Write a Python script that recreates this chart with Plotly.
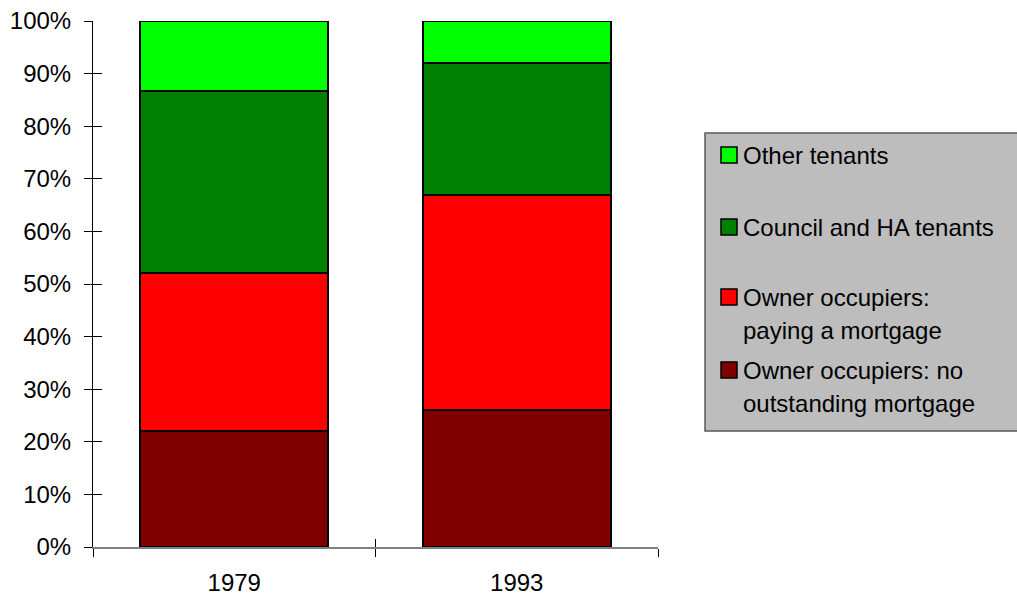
import plotly.graph_objects as go

# Housing tenure shares (% of households)
years = ["1979", "1993"]
no_mortgage = [22.0, 26.0]
paying_mortgage = [30.0, 41.0]
council_ha = [34.7, 25.0]
other_tenants = [13.3, 8.0]

series_names = [
    "Owner occupiers: no outstanding mortgage",
    "Owner occupiers: paying a mortgage",
    "Council and HA tenants",
    "Other tenants",
]
series_values = [no_mortgage, paying_mortgage, council_ha, other_tenants]
series_colors = ["#800000", "#FF0000", "#008000", "#00FF00"]

# legend text lines, listed top to bottom
legend_lines = [
    ["Other tenants"],
    ["Council and HA tenants"],
    ["Owner occupiers:", "paying a mortgage"],
    ["Owner occupiers: no", "outstanding mortgage"],
]

FONT = "Liberation Sans, Arial, sans-serif"
FS = 24
W, H = 1017, 596
ML, MR, MT, MB = 93, 359, 21, 49
PW, PH = W - ML - MR, H - MT - MB


def px_x(x):
    return (x - ML) / PW


def px_y(y):
    return 1 - (y - MT) / PH


fig = go.Figure()
for name, vals, col in zip(series_names, series_values, series_colors):
    fig.add_trace(go.Bar(
        x=years, y=vals, name=name,
        marker=dict(color=col, line=dict(color="#000000", width=2)),
        showlegend=False,
    ))

# empty trace that carries the overlay axes used for the inner half of the ticks
fig.add_trace(go.Scatter(x=[], y=[], xaxis="x2", yaxis="y2",
                         showlegend=False, hoverinfo="skip"))

fig.update_layout(
    width=W, height=H,
    margin=dict(l=ML, r=MR, t=MT, b=MB, autoexpand=False),
    paper_bgcolor="white", plot_bgcolor="white",
    barmode="stack", bargap=0.333,
    font=dict(family=FONT, size=FS, color="#000000"),
    xaxis=dict(
        type="category", categoryarray=years, range=[-0.5, 1.5],
        tickson="boundaries", ticks="outside", ticklen=8, tickcolor="#000000",
        showline=True, linecolor="#808080", linewidth=1.5,
        showgrid=False, zeroline=False, ticklabelstandoff=13,
        tickfont=dict(family=FONT, size=FS),
    ),
    yaxis=dict(
        range=[0, 100], dtick=10, ticksuffix="%",
        ticks="outside", ticklen=8, tickcolor="#000000",
        showline=True, linecolor="#000000", linewidth=1,
        showgrid=False, zeroline=False, ticklabelstandoff=8,
        tickfont=dict(family=FONT, size=FS),
    ),
    xaxis2=dict(
        type="category", categoryarray=years, range=[-0.5, 1.5],
        overlaying="x", tickson="boundaries", ticks="inside", ticklen=8,
        tickcolor="#000000", showticklabels=False, showgrid=False,
        showline=False, zeroline=False,
    ),
    yaxis2=dict(
        range=[0, 100], dtick=10, overlaying="y", side="left",
        ticks="inside", ticklen=9, tickcolor="#000000",
        showticklabels=False, showgrid=False, showline=False, zeroline=False,
    ),
)

# legend panel
box_l, box_t, box_r, box_b = 705, 133, 1040, 431
fig.add_shape(type="rect", xref="paper", yref="paper",
              x0=px_x(box_l), x1=px_x(box_r), y0=px_y(box_b), y1=px_y(box_t),
              fillcolor="#BDBDBD", line=dict(color="#5A5A5A", width=1.5),
              layer="below")

entry_tops = [155, 227, 297, 370]
line_step = 33
legend_colors = series_colors[::-1]
for top, lines, col in zip(entry_tops, legend_lines, legend_colors):
    fig.add_shape(type="rect", xref="paper", yref="paper",
                  x0=px_x(721), x1=px_x(737), y0=px_y(top + 8), y1=px_y(top - 8),
                  fillcolor=col, line=dict(color="#000000", width=1.5))
    for i, txt in enumerate(lines):
        fig.add_annotation(text=txt, xref="paper", yref="paper",
                           x=px_x(741), y=px_y(top + i * line_step),
                           xanchor="left", yanchor="middle", showarrow=False,
                           font=dict(family=FONT, size=FS, color="#000000"))

fig.write_html("out.html")
